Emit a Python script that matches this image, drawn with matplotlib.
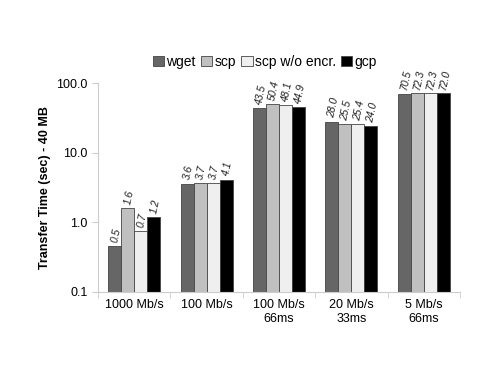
import numpy as np
import matplotlib
matplotlib.use('Agg')
import matplotlib.pyplot as plt
from matplotlib.ticker import FixedLocator, FuncFormatter

plt.rcParams['font.family'] = ['Liberation Sans', 'DejaVu Sans']

categories = ['1000 Mb/s', '100 Mb/s', '100 Mb/s\n66ms', '20 Mb/s\n33ms', '5 Mb/s\n66ms']
series = ['wget', 'scp', 'scp w/o encr.', 'gcp']
wget = [0.46, 3.6, 43.5, 28.0, 70.5]
scp = [1.6, 3.7, 50.4, 25.5, 72.3]
scp_noenc = [0.74, 3.7, 48.1, 25.4, 72.3]
gcp = [1.2, 4.1, 44.9, 24.0, 72.0]
colors = ['#666666', '#c0c0c0', '#efefef', '#000000']

fig = plt.figure(figsize=(5, 3.87), dpi=100)
ax = fig.add_axes([0.196, 0.2455, 0.724, 0.54])

x = np.arange(len(categories))
w = 0.18
for i, (vals, name) in enumerate(zip([wget, scp, scp_noenc, gcp], series)):
    pos = x + (i - 1.5) * w
    ax.bar(pos, vals, w, color=colors[i], edgecolor='#444444', linewidth=0.6,
           label=name, zorder=2)
    for px, v in zip(pos, vals):
        ax.annotate('%.1f' % v, (px, v), xytext=(1, 2), textcoords='offset points',
                    rotation=78, ha='center', va='bottom', fontsize=7.5,
                    style='italic', color='#222222')

ax.set_yscale('log')
ax.set_ylim(0.1, 100)
ax.yaxis.set_major_locator(FixedLocator([0.1, 1, 10, 100]))
ax.yaxis.set_minor_locator(FixedLocator([]))
ax.yaxis.set_major_formatter(FuncFormatter(lambda v, p: '%.1f' % v))
ax.set_xlim(-0.5, len(categories) - 0.5)
ax.set_xticks(x)
ax.set_xticklabels(categories, fontsize=9)
ax.set_xticks(np.arange(len(categories) + 1) - 0.5, minor=True)
ax.tick_params(axis='x', which='major', length=0, pad=5)
ax.tick_params(axis='x', which='minor', length=4, color='#cccccc')
ax.tick_params(axis='y', labelsize=9, color='#cccccc', length=4)
ax.set_ylabel('Transfer Time (sec) - 40 MB', fontsize=9, fontweight='bold')
for s in ['top', 'right']:
    ax.spines[s].set_visible(False)
for s in ['left', 'bottom']:
    ax.spines[s].set_color('#cccccc')

fig.legend(loc='center', bbox_to_anchor=(0.53, 0.84), ncol=4, frameon=False,
           fontsize=10, handlelength=0.8, handleheight=0.8, handletextpad=0.15,
           columnspacing=0.4)

fig.savefig('out.png', dpi=100)
